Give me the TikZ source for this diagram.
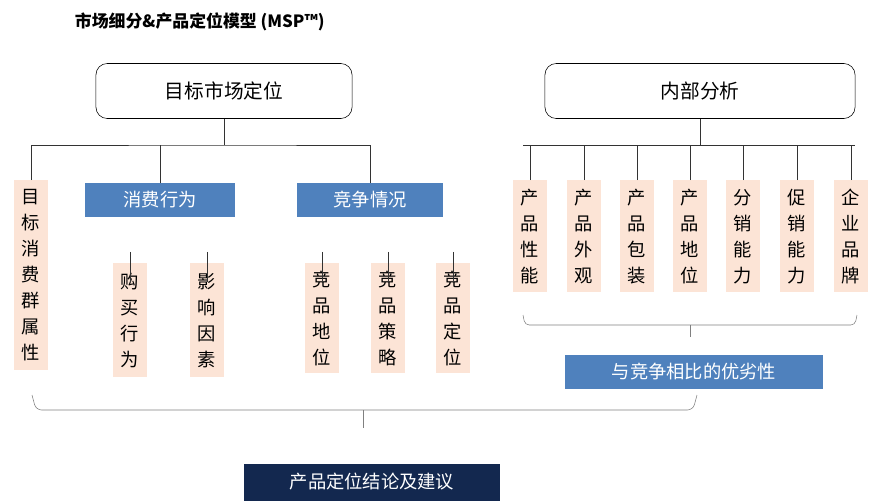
\documentclass[tikz,border=0pt]{standalone}
\usepackage{fontspec}
\newfontfamily\cjk{Noto Sans CJK SC}
\usetikzlibrary{positioning}
\definecolor{peach}{HTML}{FCE4D6}
\definecolor{midblue}{HTML}{4F81BD}
\definecolor{navy}{HTML}{13284F}
\tikzset{
	head/.style={draw, rounded corners=8pt, minimum width=6.4cm, minimum height=1.375cm, font=\cjk\fontsize{14}{14}\selectfont},
	tag/.style={fill=midblue, text=white, minimum height=0.825cm, inner sep=0pt, font=\cjk\fontsize{13}{13}\selectfont},
	item/.style={fill=peach, minimum width=0.85cm, inner sep=1pt, align=center, anchor=north, font=\cjk\fontsize{13}{18.5}\selectfont},
	wire/.style={draw=black!80, thin}
}
\begin{document}
\begin{tikzpicture}[x=0.025cm, y=-0.025cm]
	\useasboundingbox (0,0) rectangle (874,500);
	\node[anchor=west, font=\cjk\bfseries\fontsize{12}{12}\selectfont] (title) at (70,22) {市场细分\&产品定位模型 (MSP™)};

	% left tree
	\node[head] (target) at (224,91) {目标市场定位};
	\node[item, minimum height=4.75cm] (group) at (31,180) {目\\标\\消\\费\\群\\属\\性};
	\node[tag, minimum width=3.75cm] (behav) at (160,200) {消费行为};
	\node[tag, minimum width=3.625cm] (comp) at (370,200) {竞争情况};
	\draw[wire] (target.south) -- (224,145) coordinate (lj);
	\draw[wire] (group.north) |- (lj) -| (comp.north);
	\draw[wire] (behav.north) -- (160,145);

	\node[item, minimum height=2.85cm] (buy) at (130,263) {购\\买\\行\\为};
	\node[item, minimum height=2.85cm] (factor) at (207,263) {影\\响\\因\\素};
	\foreach \n in {buy,factor}
		\draw[wire] ([yshift=8]\n.north) -- ++(0,30);

	\node[item, minimum height=2.75cm] (cpos) at (322,263) {竞\\品\\地\\位};
	\node[item, minimum height=2.75cm] (cstrat) at (388,263) {竞\\品\\策\\略};
	\node[item, minimum height=2.75cm] (cplace) at (453,263) {竞\\品\\定\\位};
	\foreach \n in {cpos,cstrat,cplace}
		\draw[wire] ([yshift=8]\n.north) -- ++(0,30);

	% right tree
	\node[head, minimum width=7.75cm] (inner) at (700,91) {内部分析};
	\draw[wire] (inner.south) -- (700,145);
	\draw[wire] (523,145) -- (855,145);
	\foreach \x/\t [count=\i] in {530/产\\品\\性\\能, 584/产\\品\\外\\观, 637/产\\品\\包\\装, 690/产\\品\\地\\位, 743/分\\销\\能\\力, 797/促\\销\\能\\力, 851/企\\业\\品\\牌}
	{
		\node[item, minimum height=2.8cm] (r\i) at (\x,180) {\t};
		\draw[wire] (r\i.north) -- (\x,145);
	}

	\draw[wire, gray, rounded corners=3pt] (523,315) -- (525,325) -- (855,325) -- (857,315);
	\draw[wire, gray] (690,325) -- (690,337);
	\node[tag, minimum width=6.45cm, minimum height=0.85cm] (merit) at (694,372) {与竞争相比的优劣性};

	% conclusion
	\draw[wire, gray, rounded corners=4pt] (32,395) -- (36,410) -- (693,410) -- (697,395);
	\draw[wire, gray] (363,410) -- (363,428);
	\node[fill=navy, text=white, minimum width=6.375cm, minimum height=0.925cm, font=\cjk\fontsize{13}{13}\selectfont] (result) at (372,482) {产品定位结论及建议};
\end{tikzpicture}
\end{document}
